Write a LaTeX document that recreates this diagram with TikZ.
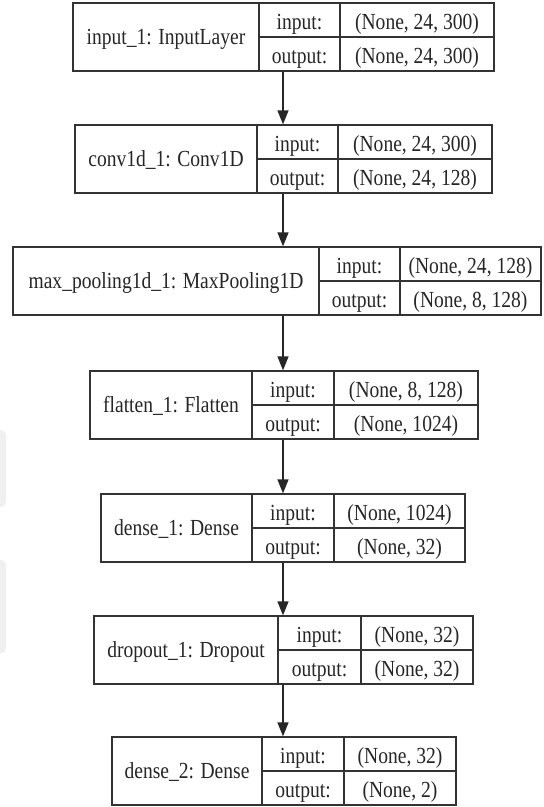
\documentclass[tikz,border=0pt]{standalone}
\usepackage{fontspec}
\setmainfont{Liberation Serif}[FakeStretch=0.85]
\usetikzlibrary{arrows.meta}

\tikzset{
  layer/.style={draw=black!80, line width=1.3pt, rectangle, inner sep=0pt},
  cell/.style={anchor=base, inner sep=0pt, text=black!85,
               font=\fontsize{23}{26}\selectfont},
  divider/.style={draw=black!80, line width=1.3pt},
  flow/.style={-{Triangle[width=11pt,length=14pt]}, line width=1.3pt, draw=black!85, fill=black},
  haze/.style={fill=black!6, draw=none, rounded corners=5pt},
}

% one Keras layer: name, left, divider 1, divider 2, right, top, label, input shape, output shape
\newcommand\kerasblock[9]{%
  \node[layer, minimum width={(#5-#2)*1pt}, minimum height=68pt]
    (#1) at ({(#2+#5)/2},{#6+34}) {};
  \draw[divider] (#3,#6) -- (#3,#6+68);
  \draw[divider] (#4,#6) -- (#4,#6+68);
  \draw[divider] (#3,#6+34) -- (#5,#6+34);
  \node[cell] (#1-name) at ({(#2+#3)/2},{#6+34+7}) {#7};
  \node[cell] (#1-in)   at ({(#3+#4)/2},{#6+17+9}) {input:};
  \node[cell] (#1-out)  at ({(#3+#4)/2},{#6+51+9}) {output:};
  \node[cell] (#1-ins)  at ({(#4+#5)/2},{#6+17+9}) {#8};
  \node[cell] (#1-outs) at ({(#4+#5)/2},{#6+51+9}) {#9};
}

\begin{document}
\begin{tikzpicture}[x=1pt, y=-1pt]
  \useasboundingbox[fill=white] (0,0) rectangle (544,807);

  % faint marks along the left edge
  \fill[haze] (-10,430) rectangle (6,507);
  \fill[haze] (-10,560) rectangle (6,653);

  \kerasblock{b1}{73}{259}{340}{494}{3}{input\_1: InputLayer}{(None, 24, 300)}{(None, 24, 300)}
  \kerasblock{b2}{75}{257}{338}{492}{125}{conv1d\_1: Conv1D}{(None, 24, 300)}{(None, 24, 128)}
  \kerasblock{b3}{13}{319}{400}{541}{247}{max\_pooling1d\_1: MaxPooling1D}{(None, 24, 128)}{(None, 8, 128)}
  \kerasblock{b4}{90}{252}{334}{478}{371}{flatten\_1: Flatten}{(None, 8, 128)}{(None, 1024)}
  \kerasblock{b5}{101}{252}{334}{465}{494}{dense\_1: Dense}{(None, 1024)}{(None, 32)}
  \kerasblock{b6}{94}{278}{361}{473}{616}{dropout\_1: Dropout}{(None, 32)}{(None, 32)}
  \kerasblock{b7}{112}{262}{344}{456}{737}{dense\_2: Dense}{(None, 32)}{(None, 2)}

  % data flow between layers
  \coordinate (ax) at (283,0);
  \draw[flow] (b1.south -| ax) -- (b2.north -| ax);
  \draw[flow] (b2.south -| ax) -- (b3.north -| ax);
  \draw[flow] (b3.south -| ax) -- (b4.north -| ax);
  \draw[flow] (b4.south -| ax) -- (b5.north -| ax);
  \draw[flow] (b5.south -| ax) -- (b6.north -| ax);
  \draw[flow] (b6.south -| ax) -- (b7.north -| ax);
\end{tikzpicture}
\end{document}
